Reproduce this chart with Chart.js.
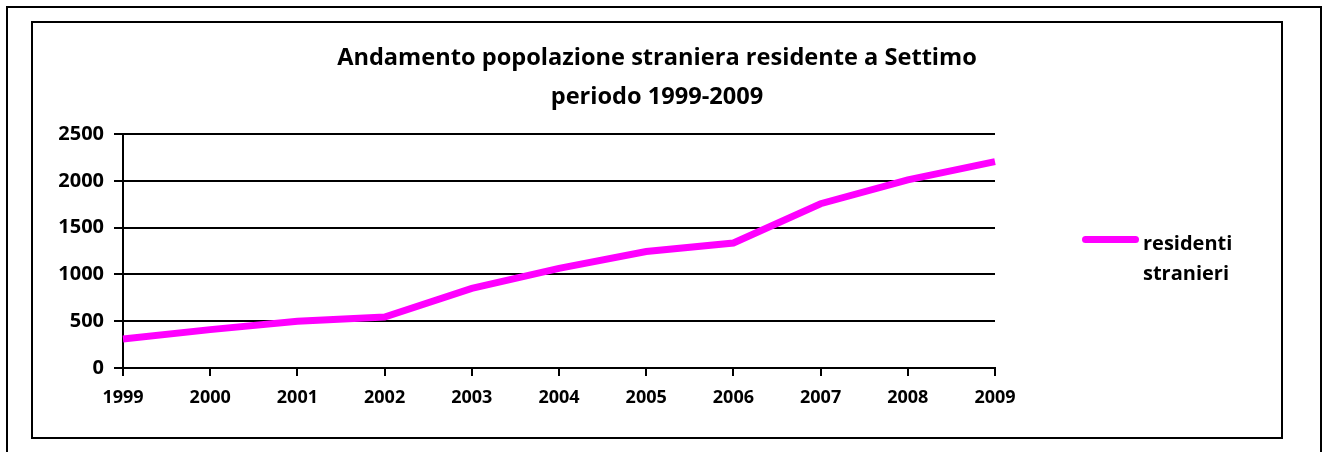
<!DOCTYPE html>
<html>
<head>
<meta charset="utf-8">
<script src="https://cdn.jsdelivr.net/npm/chart.js@4.4.1/dist/chart.umd.min.js"></script>
<style>
    html, body { margin: 0; padding: 0; background: #fff; }
    body { width: 1323px; height: 452px; position: relative; overflow: hidden; font-family: "Open Sans", sans-serif; }
    #page { position: absolute; left: 6px; top: 6px; width: 1312px; height: 460px; border: 2px solid #000; border-bottom: none; }
    #box { position: absolute; left: 31px; top: 21px; width: 1248px; height: 414px; border: 2px solid #000; }
    #wrap { position: relative; width: 1248px; height: 414px; }
    #legend { position: absolute; left: 1049px; top: 205px; font-weight: 700; font-size: 20px; line-height: 30px; }
    #legend .item { position: relative; padding-left: 61px; width: 110px; }
    #legend .swatch { position: absolute; left: 0; top: 8px; width: 57px; height: 7px; border-radius: 4px; }
</style>
</head>
<body>
<div id="page"></div>
<div id="box">
    <div id="wrap">
        <canvas id="chart"></canvas>
        <div id="legend"></div>
    </div>
</div>
<script>
    const years = ['1999', '2000', '2001', '2002', '2003', '2004', '2005', '2006', '2007', '2008', '2009'];
    const residents = [310, 410, 500, 545, 850, 1065, 1245, 1335, 1755, 2010, 2205];
    const seriesName = 'residenti stranieri';
    const titleLines = ['Andamento popolazione straniera residente a Settimo', 'periodo 1999-2009'];

    const BLACK = '#000000';
    const MAGENTA = '#ff00ff';
    const FONT = 'Open Sans';

    // legend drawn in html so the label can wrap on two lines
    const htmlLegend = {
        id: 'htmlLegend',
        afterUpdate(chart) {
            const box = document.getElementById('legend');
            box.innerHTML = '';
            chart.data.datasets.forEach((ds) => {
                const item = document.createElement('div');
                item.className = 'item';
                const swatch = document.createElement('span');
                swatch.className = 'swatch';
                swatch.style.background = ds.borderColor;
                item.appendChild(swatch);
                item.appendChild(document.createTextNode(ds.label));
                box.appendChild(item);
            });
        }
    };

    new Chart(document.getElementById('chart'), {
        type: 'line',
        data: {
            labels: years,
            datasets: [{
                label: seriesName,
                data: residents,
                borderColor: MAGENTA,
                backgroundColor: MAGENTA,
                borderWidth: 7,
                pointRadius: 0,
                tension: 0
            }]
        },
        options: {
            animation: false,
            responsive: true,
            maintainAspectRatio: false,
            layout: { padding: 0 },
            plugins: {
                legend: { display: false },
                tooltip: { enabled: false },
                title: {
                    display: true,
                    text: titleLines,
                    color: BLACK,
                    font: { family: FONT, size: 23.6, weight: 'bold', lineHeight: 1.653 },
                    padding: { top: 15.5, bottom: 17.5 }
                }
            },
            scales: {
                x: {
                    grid: { drawOnChartArea: false, drawTicks: true, tickLength: 8, color: BLACK, lineWidth: 2 },
                    border: { color: BLACK, width: 2 },
                    ticks: { color: BLACK, padding: 11, maxRotation: 0, autoSkip: false, font: { family: FONT, size: 18, weight: 'bold' } },
                    afterFit: (s) => { s.height = 69; }
                },
                y: {
                    min: 0,
                    max: 2500,
                    grid: { color: BLACK, lineWidth: 2, tickLength: 9 },
                    border: { color: BLACK, width: 2 },
                    ticks: {
                        stepSize: 500,
                        color: BLACK,
                        padding: 10,
                        font: { family: FONT, size: 20, weight: 'bold' },
                        callback: (v) => String(v)
                    },
                    afterFit: (s) => { s.width = 90; }
                },
                // empty axis keeping the right part free for the legend
                side: {
                    position: 'right',
                    grid: { display: false },
                    border: { display: false },
                    ticks: { display: false },
                    afterFit: (s) => { s.width = 286; }
                }
            }
        },
        plugins: [htmlLegend]
    });
</script>
</body>
</html>
